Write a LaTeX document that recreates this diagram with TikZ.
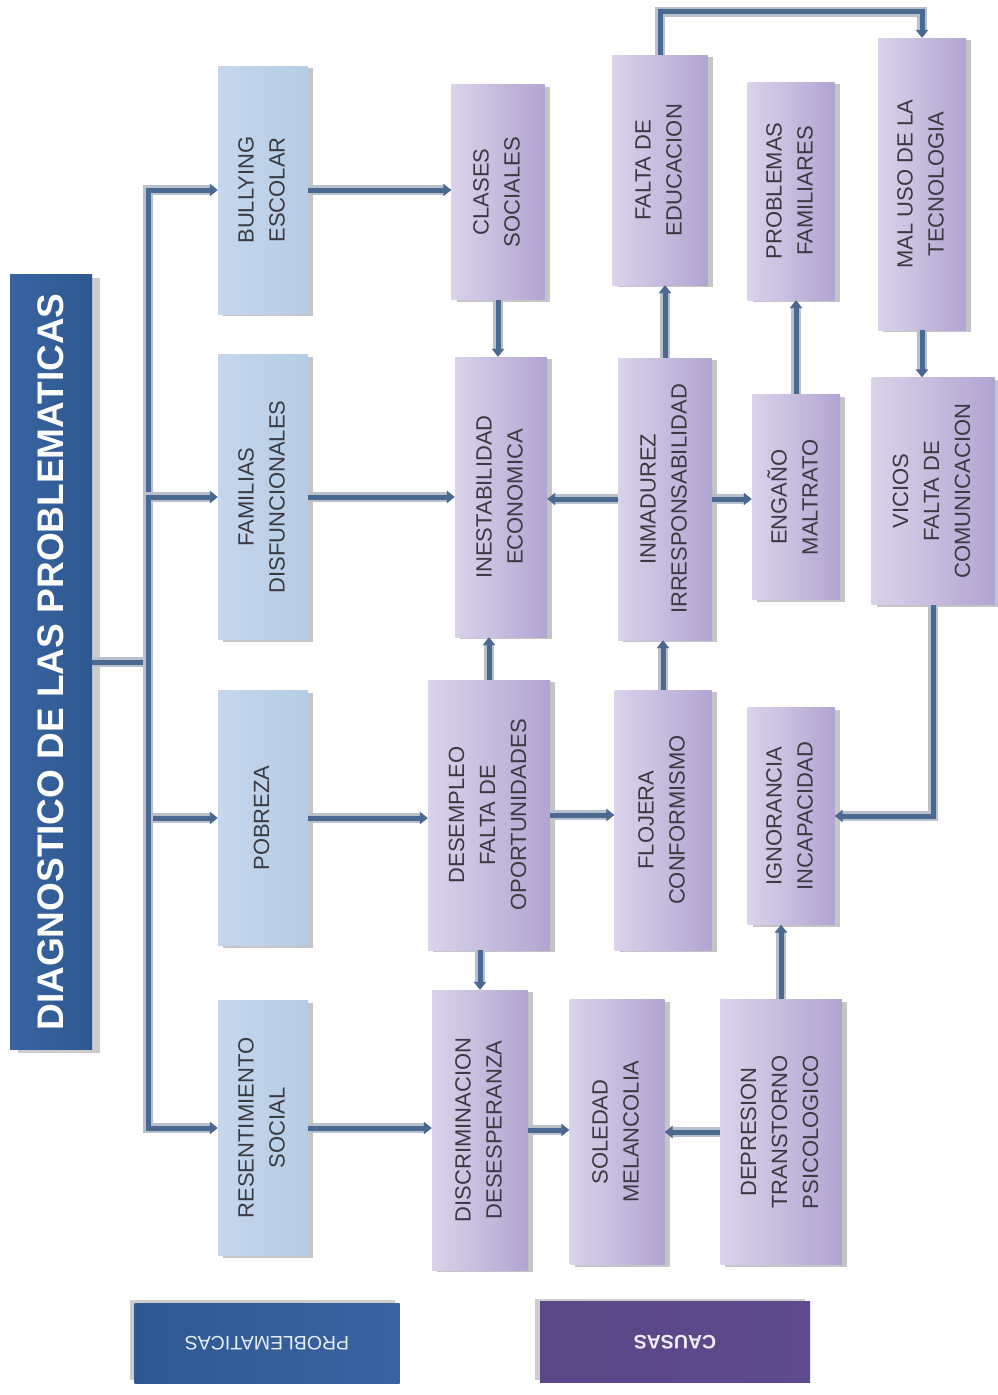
\documentclass[tikz,border=0pt]{standalone}
\usepackage{fontspec}
\setmainfont{Liberation Sans}
\usetikzlibrary{arrows.meta,shadows,calc}
\definecolor{probL}{HTML}{C6D7ED}
\definecolor{probM}{HTML}{E6EEF8}
\definecolor{probR}{HTML}{B6CBE5}
\definecolor{causeL}{HTML}{DAD3EA}
\definecolor{causeM}{HTML}{EFEBF7}
\definecolor{causeR}{HTML}{B2A4D2}
\definecolor{titL}{HTML}{3A64A0}
\definecolor{titM}{HTML}{5A85C0}
\definecolor{titR}{HTML}{2D5890}
\definecolor{cauL}{HTML}{5E4A8C}
\definecolor{cauM}{HTML}{7A66AA}
\definecolor{cauR}{HTML}{5A4786}
\definecolor{txt}{HTML}{3A3A40}
\definecolor{linkc}{HTML}{4A6890}
\definecolor{halo}{HTML}{B8C0CC}
\newcommand{\rtxt}[1]{\rotatebox{90}{\begin{tabular}{@{}c@{}}#1\end{tabular}}}
\begin{document}
\begin{tikzpicture}[x=1pt,y=-1pt,
  boxbase/.style={inner sep=0pt, font=\fontsize{22}{31}\selectfont, text=txt,
    drop shadow={shadow xshift=5pt, shadow yshift=-2pt, opacity=0.45}},
  prob/.style={boxbase, left color=probL, middle color=probM, right color=probR},
  cause/.style={boxbase, left color=causeL, middle color=causeM, right color=causeR},
  titlebox/.style={inner sep=0pt, left color=titL, middle color=titM, right color=titR,
    text=white, font=\fontsize{37}{40}\selectfont\bfseries,
    drop shadow={shadow xshift=8pt, shadow yshift=-3pt, opacity=0.4}},
  legprob/.style={inner sep=0pt, left color=titR, middle color=titM, right color=titL,
    text=probM, font=\fontsize{19.5}{22}\selectfont,
    drop shadow={shadow xshift=-5pt, shadow yshift=3pt, opacity=0.4}},
  legcause/.style={inner sep=0pt, left color=cauR, middle color=cauM, right color=cauL,
    text=causeM, font=\fontsize{19.5}{22}\selectfont\bfseries,
    drop shadow={shadow xshift=-5pt, shadow yshift=3pt, opacity=0.4}},
  link/.style={draw=linkc, line width=5pt, preaction={draw=halo, line width=10pt}},
  arr/.style={link, -{Triangle[length=8pt,width=12pt]}},
]
\fill[white] (0,0) rectangle (998,1395);
\useasboundingbox (0,0) rectangle (998,1395);

% title
\node[titlebox, minimum width=82pt, minimum height=775pt] (title) at (51,662)
  {\rotatebox{90}{DIAGNOSTICO DE LAS PROBLEMATICAS}};
\coordinate (tr) at (148,662);

% problem column
\node[prob, minimum width=90pt, minimum height=248pt] (bully) at (263,190) {\rtxt{BULLYING\\ESCOLAR}};
\node[prob, minimum width=90pt, minimum height=285pt] (fam) at (263,497) {\rtxt{FAMILIAS\\DISFUNCIONALES}};
\node[prob, minimum width=90pt, minimum height=255pt] (pob) at (263,818) {\rtxt{POBREZA}};
\node[prob, minimum width=90pt, minimum height=255pt] (res) at (263,1128) {\rtxt{RESENTIMIENTO\\SOCIAL}};

% column 2
\node[cause, minimum width=93pt, minimum height=215pt] (clases) at (498,192) {\rtxt{CLASES\\SOCIALES}};
\node[cause, minimum width=92pt, minimum height=280pt] (inest) at (501,497) {\rtxt{INESTABILIDAD\\ECONOMICA}};
\node[cause, minimum width=122pt, minimum height=270pt] (desem) at (489,815) {\rtxt{DESEMPLEO\\FALTA DE\\OPORTUNIDADES}};
\node[cause, minimum width=96pt, minimum height=280pt] (discr) at (480,1130) {\rtxt{DISCRIMINACION\\DESESPERANZA}};

% column 3
\node[cause, minimum width=95pt, minimum height=230pt] (falta) at (660,170) {\rtxt{FALTA DE\\EDUCACION}};
\node[cause, minimum width=94pt, minimum height=282pt] (inmad) at (665,499) {\rtxt{INMADUREZ\\IRRESPONSABILIDAD}};
\node[cause, minimum width=97pt, minimum height=260pt] (floj) at (663,820) {\rtxt{FLOJERA\\CONFORMISMO}};
\node[cause, minimum width=95pt, minimum height=265pt] (sole) at (617,1132) {\rtxt{SOLEDAD\\MELANCOLIA}};

% column 4
\node[cause, minimum width=87pt, minimum height=218pt] (probf) at (791,191) {\rtxt{PROBLEMAS\\FAMILIARES}};
\node[cause, minimum width=88pt, minimum height=205pt] (engano) at (796,497) {\rtxt{ENGAÑO\\MALTRATO}};
\node[cause, minimum width=87pt, minimum height=217pt] (ignor) at (791,816) {\rtxt{IGNORANCIA\\INCAPACIDAD}};
\node[cause, minimum width=122pt, minimum height=265pt] (depre) at (781,1132) {\rtxt{DEPRESION\\TRANSTORNO\\PSICOLOGICO}};

% column 5
\node[cause, minimum width=88pt, minimum height=292pt] (malu) at (922,184) {\rtxt{MAL USO DE LA\\TECNOLOGIA}};
\node[cause, minimum width=123pt, minimum height=227pt] (vicios) at (933,491) {\rtxt{VICIOS\\FALTA DE\\COMUNICACION}};

% legend
\node[legprob, minimum width=265pt, minimum height=80pt] (legP) at (267,1343) {\rotatebox{180}{PROBLEMATICAS}};
\node[legcause, minimum width=270pt, minimum height=81pt] (legC) at (675,1342) {\rotatebox{180}{CAUSAS}};

% connectors from title
\draw[link] (title.east) -- (tr);
\draw[arr] (tr) |- (bully.west);
\draw[arr] (tr) |- (fam.west);
\draw[arr] (tr) |- (pob.west);
\draw[arr] (tr) |- (res.west);

% problems to causes
\draw[arr] (bully.east) -- (bully.east -| clases.west);
\draw[arr] (fam.east) -- (fam.east -| inest.west);
\draw[arr] (pob.east) -- (pob.east -| desem.west);
\draw[arr] (res.east) -- (res.east -| discr.west);

% column 2 verticals
\draw[arr] (clases.south) -- (clases.south |- inest.north);
\draw[arr] (desem.north) -- (desem.north |- inest.south);
\draw[arr] (discr.north |- desem.south) -- (discr.north);

% column 3
\draw[arr] (inmad.west) -- (inmad.west -| inest.east);
\draw[arr] (inmad.east) -- (inmad.east -| engano.west);
\draw[arr] (inmad.north) -- (inmad.north |- falta.south);
\draw[arr] (floj.north) -- (floj.north |- inmad.south);
\draw[arr] (desem.east) -- (desem.east -| floj.west);
\draw[arr] (discr.east) -- (discr.east -| sole.west);
\draw[arr] (depre.west) -- (depre.west -| sole.east);

% column 4
\draw[arr] (engano.north) -- (engano.north |- probf.south);
\draw[arr] (depre.north) -- (depre.north |- ignor.south);

% column 5
\draw[arr] (falta.north) -- ++(0,-43) -| (malu.north);
\draw[arr] (malu.south) -- (malu.south |- vicios.north);
\draw[arr] (vicios.south) |- (ignor.east);
\end{tikzpicture}
\end{document}
